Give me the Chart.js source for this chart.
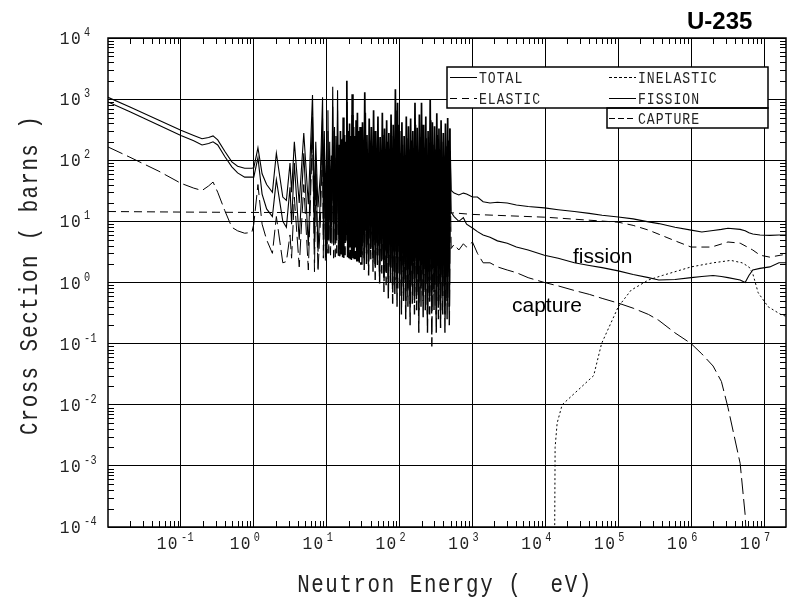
<!DOCTYPE html>
<html>
<head>
<meta charset="utf-8">
<title>U-235 cross sections</title>
<script src="https://cdn.jsdelivr.net/npm/chart.js@4.4.1/dist/chart.umd.min.js"></script>
<style>
  html, body { margin: 0; padding: 0; background: #fff; }
  #wrap { width: 796px; height: 599px; }
</style>
</head>
<body>
<div id="wrap"><canvas id="xs" width="796" height="599"></canvas></div>
<script>
// Tick labels (decades) for both log axes
const xDecades = [1e-1, 1e0, 1e1, 1e2, 1e3, 1e4, 1e5, 1e6, 1e7];
const xExps = ['-1', '0', '1', '2', '3', '4', '5', '6', '7'];
const yDecades = [1e-4, 1e-3, 1e-2, 1e-1, 1e0, 1e1, 1e2, 1e3, 1e4];
const yExps = ['-4', '-3', '-2', '-1', '0', '1', '2', '3', '4'];

// Thermal region (eV) -> barns
const thermE = [0.01, 0.02, 0.05, 0.1, 0.15, 0.195, 0.24, 0.276, 0.32, 0.4, 0.5, 0.6, 0.75, 0.94];
const thermTotal = [1070, 740, 450, 310, 255, 225, 235, 250, 215, 140, 94, 80, 74, 74];
const thermFission = [900, 620, 375, 255, 208, 178, 188, 200, 178, 115, 78, 62, 53, 53];
const thermCapture = [165, 112, 66, 42, 35, 32, 38, 44, 30, 15, 8, 7, 6.4, 6.6];

// Isolated resonances, 1 - 29 eV (troughs and peaks)
const resE = [
  1.0, 1.14, 1.3, 1.5, 1.8, 2.04, 2.5, 2.8, 3.14, 3.3,
  3.6, 4.2, 4.85, 5.6, 6.39, 6.8, 7.08, 7.6, 8.2, 8.78,
  9.0, 9.28, 9.6, 9.95, 10.15, 10.4, 10.7, 11.0, 11.3, 11.6,
  11.8, 12.1, 12.45, 12.8, 13.1, 13.4, 13.75, 14.1, 14.45, 14.8,
  15.1, 15.45, 15.8, 16.2, 16.5, 16.85, 17.2, 17.6, 17.9, 18.25,
  18.55, 18.9, 19.3, 19.7, 20.1, 20.6, 21.0, 21.5, 21.9, 22.4,
  22.9, 23.4, 23.8, 24.3, 24.8, 25.3, 25.8, 26.4, 26.9, 27.5,
  28.0, 28.7, 29.3
];
const resTotal = [
  75, 160, 60, 40, 30, 130, 25, 22, 90, 30,
  200, 20, 280, 19, 1170, 18, 200, 17, 60, 1070,
  25, 300, 18, 150, 20, 660, 17, 200, 16, 120,
  30, 1600, 16, 350, 15, 250, 18, 1400, 15, 180,
  14, 300, 14, 220, 14, 500, 14, 260, 15, 200,
  40, 2000, 13, 300, 13, 400, 12, 250, 12, 1200,
  11, 350, 11, 250, 10, 450, 10, 600, 9, 300,
  9, 350, 8.5
];
const resFission = [
  53, 110, 28, 16, 12, 48, 10, 8, 36, 9,
  90, 5, 130, 4, 520, 3.5, 90, 3.2, 25, 480,
  6, 140, 4, 60, 5, 300, 5, 80, 4.5, 50,
  8, 750, 5, 150, 4.5, 110, 6, 650, 5, 80,
  4.5, 140, 5, 100, 4.5, 230, 4.5, 120, 5, 90,
  15, 900, 4.5, 140, 4.5, 180, 4, 110, 4, 550,
  4, 160, 3.8, 110, 3.8, 200, 3.6, 280, 3.5, 140,
  3.5, 160, 3.2
];
const resCapture = [
  9, 40, 9, 5, 3, 12, 2.1, 2.2, 6, 2.5,
  25, 1.8, 40, 1.6, 280, 1.5, 60, 1.5, 10, 200,
  2.5, 40, 2.2, 25, 3, 100, 3, 30, 2.8, 20,
  4, 300, 2.5, 60, 2.6, 45, 3, 260, 2.5, 30,
  2.7, 60, 2.8, 40, 2.6, 100, 2.4, 50, 2.8, 40,
  6, 350, 2.6, 60, 2.5, 80, 2.4, 45, 2.3, 220,
  2.5, 70, 2.4, 50, 2.4, 90, 2.2, 120, 2.2, 60,
  2.1, 70, 2.0
];

// Dense resonance band, 30 - 495 eV: total on one grid, fission/capture on the other
const denseE = [
  30, 31, 32.2, 33.3, 34.5, 35.7, 37, 38.3, 39.6, 41,
  42.5, 44, 45.5, 47.1, 48.8, 50.5, 52.3, 54.1, 56, 58,
  60, 62.1, 64.3, 66.5, 68.9, 71.3, 73.8, 76.4, 79, 81.8,
  84.7, 87.6, 90.7, 93.9, 97.2, 100.6, 104, 107.7, 111.5, 115.4,
  119.4, 123.6, 127.9, 132.4, 137, 141.8, 146.8, 151.9, 157.2, 162.7,
  168.4, 174.3, 180.4, 186.7, 193.3, 200, 207, 214, 222, 229,
  237, 246, 254, 263, 272, 282, 292, 302, 313, 324,
  335, 347, 359, 371, 384, 398, 412, 426, 441, 457,
  473, 490
];
const denseE2 = [
  30.5, 31.6, 32.7, 33.9, 35.1, 36.3, 37.6, 39, 40.3, 41.7,
  43.2, 44.7, 46.3, 47.9, 49.6, 51.4, 53.2, 55, 57, 59,
  61, 63.2, 65.4, 67.7, 70.1, 72.5, 75.1, 77.7, 80.4, 83.2,
  86.1, 89.1, 92.3, 95.5, 98.9, 102.3, 105.9, 109.6, 113.4, 117.4,
  121.5, 125.7, 130.1, 134.7, 139.4, 144.3, 149.3, 154.5, 160, 165.5,
  171.3, 177.3, 183.5, 190, 196.6, 203.5, 210.5, 218, 225.5, 233,
  241.5, 250, 258.5, 267.5, 277, 287, 297, 307.5, 318.5, 329.5,
  341, 353, 365, 377.5, 391, 405, 419, 433.5, 449, 465,
  481, 495
];
const denseTotal = [
  8, 420, 6, 1300, 7, 260, 5, 480, 9, 350,
  6, 660, 5, 300, 7, 520, 4, 240, 6, 600,
  3.5, 330, 4, 450, 3, 280, 5, 560, 2.5, 380,
  3.2, 1450, 2.8, 870, 4, 300, 2.2, 420, 3, 250,
  2, 520, 2.6, 360, 1.8, 480, 3, 300, 2.2, 870,
  2.5, 340, 1.6, 560, 2.8, 870, 2, 380, 2.4, 520,
  1.5, 300, 2.2, 1000, 1.8, 420, 2.6, 360, 1.5, 590,
  2, 330, 1.7, 450, 2.4, 280, 1.6, 400, 2, 490,
  1.8, 330
];
const denseFission = [
  3, 180, 2.5, 600, 3, 110, 2.2, 210, 3.5, 150,
  2.5, 300, 2, 130, 2.8, 230, 1.5, 100, 2.4, 260,
  1.2, 140, 1.5, 200, 1, 120, 1.8, 250, 0.9, 160,
  1.1, 650, 0.8, 380, 1.4, 130, 0.6, 180, 1, 110,
  0.5, 230, 0.8, 150, 0.45, 210, 0.9, 130, 0.6, 380,
  0.7, 150, 0.35, 240, 0.8, 380, 0.5, 160, 0.7, 230,
  0.3, 130, 0.6, 450, 0.4, 180, 0.7, 150, 0.3, 260,
  0.5, 140, 0.35, 200, 0.6, 120, 0.3, 170, 0.5, 210,
  0.4, 140
];
const denseCapture = [
  2, 90, 1.6, 250, 2, 50, 1.3, 100, 2.4, 70,
  1.5, 140, 1.1, 60, 1.8, 110, 0.96, 45, 1.4, 120,
  0.7, 60, 0.9, 90, 0.55, 55, 1, 110, 0.45, 70,
  0.6, 300, 0.4, 170, 0.8, 60, 0.3, 80, 0.5, 50,
  0.25, 100, 0.4, 70, 0.2, 90, 0.45, 60, 0.3, 170,
  0.35, 65, 0.15, 110, 0.4, 170, 0.25, 70, 0.35, 100,
  0.15, 60, 0.3, 200, 0.09, 80, 0.35, 65, 0.15, 120,
  0.25, 60, 0.18, 90, 0.3, 55, 0.15, 75, 0.25, 95,
  0.2, 60
];

// Unresolved + fast region
const fastE = [510, 560, 650, 750, 830, 1000, 1170, 1400, 1740, 2200, 3000, 4000, 5800, 9700,
  1.5e4, 2.5e4, 4e4, 6e4, 1e5, 1.6e5, 2.6e5, 3.6e5, 6e5, 1e6, 1.4e6, 2e6, 2.6e6, 3.2e6, 4.7e6,
  5.5e6, 6.2e6, 7e6, 8.8e6, 1.2e7, 1.6e7, 2e7];
const fastTotal = [32, 29, 27, 29, 28, 25, 25, 21, 20, 20.5, 20, 18.5, 17.5, 16.6,
  15.5, 14.5, 13.5, 12.6, 11.8, 11, 9.8, 9.2, 8, 7.2, 6.7, 7.1, 7.4, 7.7, 7.4,
  7, 6.5, 6.2, 6, 5.9, 6, 6];
const fastFission = [14, 12, 10, 11.5, 9, 7.8, 6.8, 6, 5.5, 4.8, 4.4, 3.8, 3.4, 2.8,
  2.5, 2.1, 1.9, 1.75, 1.55, 1.35, 1.2, 1.1, 1.12, 1.2, 1.25, 1.3, 1.25, 1.2, 1.1,
  1.0, 1.3, 1.6, 1.7, 1.8, 2.1, 2.1];
const fastCapture = [3.6, 4.2, 3.4, 4.3, 3.8, 4.6, 3, 2.1, 2.1, 1.8, 1.6, 1.45, 1.2, 1.0,
  0.88, 0.74, 0.64, 0.55, 0.46, 0.38, 0.3, 0.24, 0.15, 0.1, 0.068, 0.043, 0.024, 0.009, 0.0011,
  1.6e-4, 1e-5, null, null, null, null, null];

const elasticE = [0.01, 0.1, 1, 10, 100, 530, 1000, 1e4, 1e5, 1.6e5, 2.6e5, 6.6e5, 1e6,
  1.9e6, 3.2e6, 4.7e6, 7e6, 8.8e6, 1.2e7, 1.7e7, 2e7];
const elasticV = [14.5, 14.2, 14, 13.9, 13.8, 13.8, 13, 11.7, 9.7, 8.6, 7.2, 4.6, 3.8,
  3.8, 4.6, 4.4, 3.4, 2.8, 2.6, 2.8, 2.9];

const inelasticE = [1.33e4, 1.36e4, 1.45e4, 1.7e4, 4.6e4, 5.9e4, 1e5, 1.5e5, 2.6e5, 4e5,
  1e6, 2e6, 3.5e6, 5e6, 6.2e6, 7e6, 8.3e6, 1.14e7, 1.7e7, 2e7];
const inelasticV = [1e-5, 0.002, 0.005, 0.01, 0.03, 0.1, 0.4, 0.75, 1.1, 1.3,
  1.8, 2.1, 2.3, 2.1, 1.8, 1.4, 0.68, 0.4, 0.3, 0.28];

const pts = (xs, ys) => xs.map((x, i) => ({ x: x, y: ys[i] }));

const totalPts = pts([...thermE, ...resE, ...denseE, ...fastE],
  [...thermTotal, ...resTotal, ...denseTotal, ...fastTotal]);
const partE = [...thermE, ...resE, ...denseE2, ...fastE];
const fissionPts = pts(partE, [...thermFission, ...resFission, ...denseFission, ...fastFission]);
const capturePts = pts(partE, [...thermCapture, ...resCapture, ...denseCapture, ...fastCapture]);

// thicker strokes inside the resonance band so it prints solid black
const bandWidth = w => ({
  borderWidth: c => (c.p0.parsed.x >= 15 && c.p1.parsed.x <= 500 ? w : undefined)
});

const MONO = '"Liberation Mono", "DejaVu Sans Mono", monospace';

function drawText(ctx, str, x, y, size, align, sx, spacing, base) {
  ctx.save();
  ctx.translate(x, y);
  ctx.scale(sx, 1);
  ctx.font = size + 'px ' + MONO;
  ctx.letterSpacing = spacing + 'px';
  ctx.textAlign = align;
  ctx.textBaseline = base || 'alphabetic';
  ctx.fillText(str, 0, 0);
  ctx.restore();
}

// frame, minor ticks, labels, legend and notes
const decorations = {
  id: 'decorations',
  afterDraw(chart) {
    const ctx = chart.ctx;
    const xs = chart.scales.x, ys = chart.scales.y;
    const a = chart.chartArea;
    ctx.save();

    ctx.strokeStyle = '#000';
    ctx.lineWidth = 1.5;
    ctx.strokeRect(a.left, a.top, a.right - a.left, a.bottom - a.top);

    // minor ticks, inside on all four sides
    ctx.lineWidth = 1;
    ctx.beginPath();
    [1e-2, ...xDecades].forEach(d => {
      for (let m = 2; m <= 9; m++) {
        const v = d * m;
        if (v >= xs.max) continue;
        const px = Math.round(xs.getPixelForValue(v)) + 0.5;
        ctx.moveTo(px, a.bottom); ctx.lineTo(px, a.bottom - 6);
        ctx.moveTo(px, a.top); ctx.lineTo(px, a.top + 6);
      }
    });
    yDecades.slice(0, -1).forEach(d => {
      for (let m = 2; m <= 9; m++) {
        const py = Math.round(ys.getPixelForValue(d * m)) + 0.5;
        ctx.moveTo(a.left, py); ctx.lineTo(a.left + 6, py);
        ctx.moveTo(a.right, py); ctx.lineTo(a.right - 6, py);
      }
    });
    ctx.stroke();

    // tick labels 10^n
    ctx.fillStyle = '#222';
    xDecades.forEach((v, i) => {
      const px = xs.getPixelForValue(v);
      drawText(ctx, '10', px - 2, 549, 18, 'right', 0.9, 1.5);
      drawText(ctx, xExps[i], px, 541, 12, 'left', 0.85, 0.5);
    });
    yDecades.forEach((v, i) => {
      const py = ys.getPixelForValue(v);
      drawText(ctx, '10', 82, py + 6, 18, 'right', 0.9, 1.5);
      drawText(ctx, yExps[i], 84, py - 2, 12, 'left', 0.85, 0.5);
    });

    // axis titles
    drawText(ctx, 'Neutron Energy (  eV)', 445, 592, 26, 'center', 0.8, 2);
    ctx.save();
    ctx.translate(37, 275);
    ctx.rotate(-Math.PI / 2);
    drawText(ctx, 'Cross Section ( barns )', 0, 0, 26, 'center', 0.8, 1.8);
    ctx.restore();

    // legend
    ctx.fillStyle = '#fff';
    ctx.fillRect(447, 67, 321, 41);
    ctx.fillRect(607, 108, 161, 20);
    ctx.strokeStyle = '#000';
    ctx.lineWidth = 1.5;
    ctx.strokeRect(447, 67, 321, 41);
    ctx.strokeRect(607, 108, 161, 20);

    const ds = chart.data.datasets;
    const rows = [
      { d: ds[0], x: 450, y: 77.5 },
      { d: ds[1], x: 450, y: 98.5 },
      { d: ds[2], x: 609, y: 77.5 },
      { d: ds[3], x: 609, y: 98.5 },
      { d: ds[4], x: 609, y: 118.5 }
    ];
    rows.forEach(r => {
      ctx.save();
      ctx.strokeStyle = '#000';
      ctx.lineWidth = 1;
      ctx.setLineDash(r.d.legendDash || []);
      ctx.beginPath();
      ctx.moveTo(r.x, r.y); ctx.lineTo(r.x + 27, r.y);
      ctx.stroke();
      ctx.restore();
      ctx.fillStyle = '#222';
      drawText(ctx, r.d.label, r.x + 29, r.y + 1, 16, 'left', 0.82, 1.2, 'middle');
    });

    // title and curve notes
    ctx.fillStyle = '#000';
    ctx.textAlign = 'left';
    ctx.textBaseline = 'alphabetic';
    ctx.letterSpacing = '0px';
    ctx.font = 'bold 24px "Liberation Sans", Arial, sans-serif';
    ctx.fillText('U-235', 687, 29);
    ctx.font = '21px "Liberation Sans", Arial, sans-serif';
    ctx.fillText('fission', 573, 263);
    ctx.fillText('capture', 512, 312);

    ctx.restore();
  }
};

const decadeTicks = list => scale => { scale.ticks = list.map(v => ({ value: v })); };

new Chart(document.getElementById('xs'), {
  type: 'line',
  data: {
    datasets: [
      { label: 'TOTAL', data: totalPts, borderColor: '#000', borderWidth: 1.1,
        segment: bandWidth(1.7) },
      { label: 'ELASTIC', data: pts(elasticE, elasticV), borderColor: '#000', borderWidth: 1,
        borderDash: [8, 5], legendDash: [7, 5] },
      { label: 'INELASTIC', data: pts(inelasticE, inelasticV), borderColor: '#000', borderWidth: 1,
        borderDash: [2, 2.5], legendDash: [3, 2] },
      { label: 'FISSION', data: fissionPts, borderColor: '#000', borderWidth: 1.1,
        segment: bandWidth(1.6) },
      { label: 'CAPTURE', data: capturePts, borderColor: '#000', borderWidth: 1,
        borderDash: [16, 5], legendDash: [6, 3], segment: bandWidth(1.4) }
    ]
  },
  options: {
    responsive: false,
    animation: false,
    devicePixelRatio: 1,
    layout: { padding: { left: 108, right: 10, top: 38, bottom: 72 } },
    elements: { point: { radius: 0 }, line: { tension: 0, fill: false } },
    plugins: { legend: { display: false }, tooltip: { enabled: false } },
    scales: {
      x: {
        type: 'logarithmic', min: 0.01, max: 2e7,
        afterBuildTicks: decadeTicks(xDecades),
        ticks: { display: false },
        grid: { color: '#000', lineWidth: 1, drawTicks: false },
        border: { display: false }
      },
      y: {
        type: 'logarithmic', min: 1e-4, max: 1e4,
        afterBuildTicks: decadeTicks(yDecades),
        ticks: { display: false },
        grid: { color: '#000', lineWidth: 1, drawTicks: false },
        border: { display: false }
      }
    }
  },
  plugins: [decorations]
});
</script>
</body>
</html>
